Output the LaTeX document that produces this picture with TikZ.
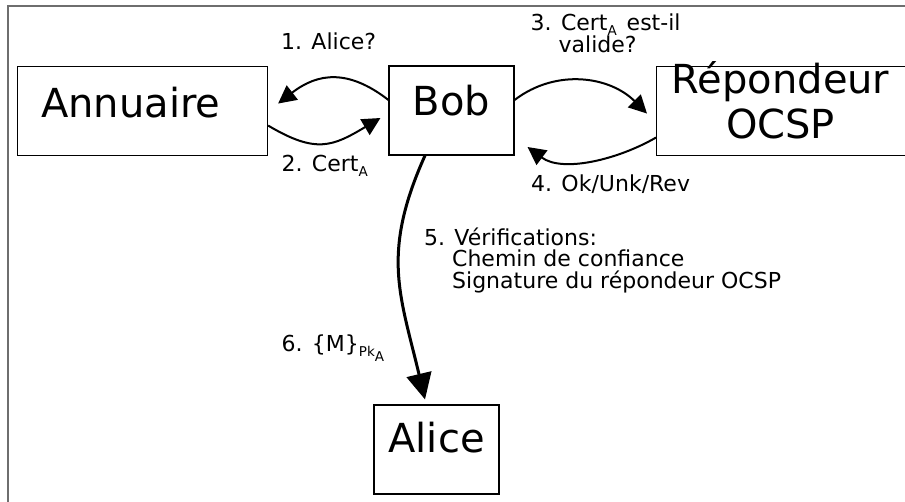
\documentclass[tikz,border=0pt]{standalone}
\usepackage{fontspec}
\setmainfont{DejaVu Sans}
\usetikzlibrary{arrows.meta}
\definecolor{framegray}{RGB}{110,110,110}
\newcommand\sbs[1]{\raisebox{-5pt}{\fontsize{13.5}{13.5}\selectfont #1}}
\begin{document}
\begin{tikzpicture}[x=1pt,y=-1pt,
  box/.style={draw=black, line width=1.1pt, rectangle, inner sep=0pt, font=\fontsize{40}{45}\selectfont},
  lbl/.style={anchor=base west, align=left, inner sep=0pt, font=\fontsize{22}{21.5}\selectfont},
  conn/.style={line width=2pt, -{Triangle[length=18pt,width=18pt]}},
  bigconn/.style={line width=3pt, -{Triangle[length=26pt,width=25pt]}},
  framestyle/.style={draw=framegray, line width=1.5pt}]
\useasboundingbox (0,0) rectangle (905,502);
\draw[framestyle] (8,520) -- (8,6) -- (920,6);

\node[box, anchor=north west, minimum width=250, minimum height=89, inner xsep=23.5, text width=203, align=left, text height=50.7, text depth=38.3] (annuaire) at (17,66) {Annuaire};
\node[box, minimum width=125, minimum height=89, text height=50, text depth=39] (bob) at (451.5,110.5) {Bob};
\node[box, minimum width=125, minimum height=89, text height=48, text depth=41] (alice) at (436.5,449.5) {Alice};
\node[box, anchor=north west, minimum height=89, text width=284, align=left, text height=27, text depth=62] (rep) at (656,66) {\makebox[248pt]{Répondeur}\\\makebox[248pt]{OCSP}};

% 1. Bob -> Annuaire
\draw[conn] ([yshift=10.5pt]bob.west) .. controls +(-40,-31) and +(40,-31) .. ([xshift=10pt,yshift=7.5pt]annuaire.east);
% 2. Annuaire -> Bob
\draw[conn] ([yshift=-14.5pt]annuaire.east) .. controls +(48,28.5) and +(-48,28.5) .. ([xshift=-8pt,yshift=-7.5pt]bob.west);
% 3. Bob -> Repondeur
\draw[conn] ([yshift=10.5pt]bob.east) .. controls +(42,-32) and +(-37,-37) .. ([xshift=-9pt,yshift=-2.5pt]rep.west);
% 4. Repondeur -> Bob
\draw[conn] ([yshift=-26.5pt]rep.west) .. controls +(-38,22) and +(35,26) .. ([xshift=13pt,yshift=-36.5pt]bob.east);
% 5/6. Bob -> Alice
\draw[bigconn] ([xshift=-26.5pt]bob.south) .. controls +(-44,98) and +(-25,-105) .. ([xshift=-11.5pt,yshift=5pt]alice.north);

\node[lbl] (l1) at (281,50) {1. Alice?};
\node[lbl] (l2) at (281.5,172) {2. Cert\sbs{A}};
\node[lbl] (l3) at (530.5,53) {3. Cert\sbs{A}\hspace{0.45em}est-il\\\phantom{3.}\ valide?};
\node[lbl] (l4) at (531,192) {4. Ok/Unk/Rev};
\node[lbl] (l5) at (424,288.5) {5. Vérifications:\\\phantom{5.}\ Chemin de confiance\\\phantom{5.}\ Signature du répondeur OCSP};
\node[lbl] (l6) at (281.5,352) {6. \{M\}\sbs{Pk\sbs{A}}};
\end{tikzpicture}
\end{document}
